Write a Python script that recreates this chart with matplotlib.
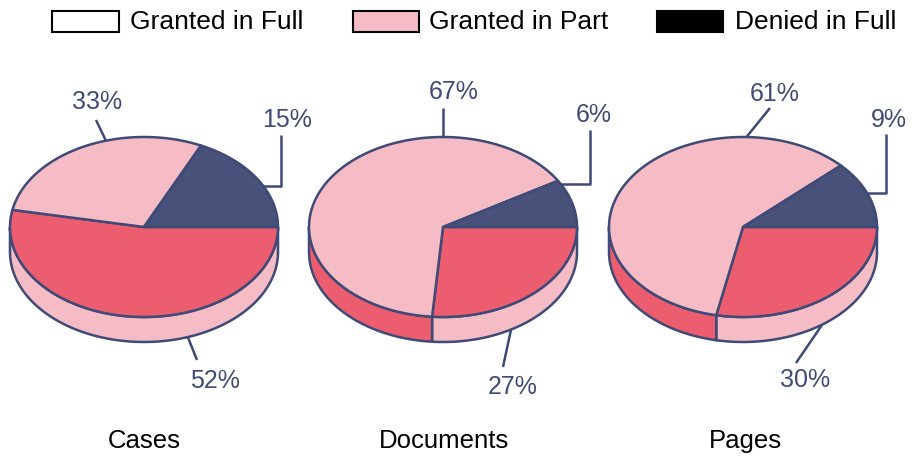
#!/usr/bin/env python3
import numpy as np
import matplotlib

matplotlib.use("Agg")
import matplotlib.pyplot as plt
from matplotlib.patches import Polygon, Rectangle

plt.rcParams["font.family"] = ["Liberation Sans", "DejaVu Sans"]

titles = ["Cases", "Documents", "Pages"]
granted_full = [52, 27, 30]
granted_part = [33, 67, 61]
denied_full = [15, 6, 9]
legend_labels = ["Granted in Full", "Granted in Part", "Denied in Full"]

NAVY = "#3f4a76"
DARK = "#47517a"
RED = "#ec5e6f"
PINK = "#f5bcc6"

RX, RY, DEPTH, CY = 134, 90, 25, 227
centers = [144, 443, 743]
# the slices in the original are not drawn exactly to their share
dark_stretch = [1.2, 1.43, 1.33]
red_stretch = [1.02, 0.974, 0.94]
label_pos = [
    [(215, 381), (97, 102), (287, 120)],
    [(513, 387), (454, 92), (594, 115)],
    [(805, 380), (775, 94), (889, 120)],
]
leaders = [
    [[(185, 330), (197, 360)], [(108, 145), (96, 120)], [(250, 186), (281, 186), (281, 135)]],
    [[(512, 325), (503, 367)], [(443, 145), (443, 108)], [(550, 184), (590, 184), (590, 130)]],
    [[(824, 322), (796, 363)], [(740, 145), (770, 108)], [(840, 193), (886, 193), (886, 134)]],
]


def rim(cx, t0, t1, n=120):
    t = np.radians(np.linspace(t0, t1, n))
    return np.column_stack([cx + RX * np.cos(t), CY - RY * np.sin(t)])


def slice_top(ax, cx, t0, t1, color):
    pts = np.vstack([[(cx, CY)], rim(cx, t0, t1)])
    ax.add_patch(Polygon(pts, closed=True, fc=color, ec=NAVY, lw=1.8, joinstyle="round", zorder=3))


def slice_side(ax, cx, t0, t1, color):
    # only the front half of the rim has a visible wall
    t0, t1 = max(t0, -180), min(t1, 0)
    if t1 <= t0:
        return
    top = rim(cx, t0, t1)
    bottom = top[::-1] + [0, DEPTH]
    ax.add_patch(Polygon(np.vstack([top, bottom]), closed=True, fc=color, ec=NAVY, lw=1.8, zorder=2))


fig = plt.figure(figsize=(9.16, 4.57), dpi=100)
ax = fig.add_axes([0, 0, 1, 1])
ax.set_xlim(0, 916)
ax.set_ylim(457, 0)
ax.axis("off")

for i, cx in enumerate(centers):
    red_end = -granted_full[i] * 3.6 * red_stretch[i]
    dark_end = denied_full[i] * 3.6 * dark_stretch[i]
    # walls take the colour of the other granted slice
    slice_side(ax, cx, red_end, 0, PINK)
    slice_side(ax, cx, -180, red_end, RED)
    slice_top(ax, cx, red_end, 0, RED)
    slice_top(ax, cx, dark_end, 360 + red_end, PINK)
    slice_top(ax, cx, 0, dark_end, DARK)

    # leaders run behind the pie so they stop at its edge
    for line in leaders[i]:
        xs, ys = zip(*line)
        ax.plot(xs, ys, color=NAVY, lw=1.8, solid_capstyle="butt", zorder=1)
    shares = [granted_full[i], granted_part[i], denied_full[i]]
    for share, (x, y) in zip(shares, label_pos[i]):
        ax.text(x, y, "{}%".format(share), color=NAVY, fontsize=18, ha="center", va="center")
    ax.text([144, 444, 745][i], 441, titles[i], color="black", fontsize=18.5, ha="center", va="center")

legend_boxes = [(52, 67, "white"), (353, 66, PINK), (657, 66, "black")]
legend_text_x = [130, 429, 735]
for (x, w, color), label, tx in zip(legend_boxes, legend_labels, legend_text_x):
    ax.add_patch(Rectangle((x, 11), w, 21, fc=color, ec="black", lw=1.5))
    ax.text(tx, 22, label, color="black", fontsize=19, ha="left", va="center")

fig.savefig("out.png", dpi=100)
